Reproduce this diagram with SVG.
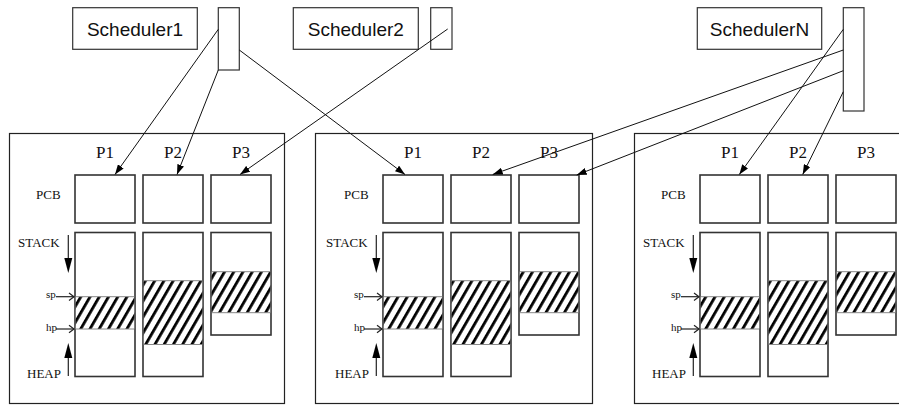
<svg xmlns="http://www.w3.org/2000/svg" width="899" height="405" viewBox="0 0 899 405">
<defs>
<style>
.box{fill:#fff;stroke:#333;stroke-width:1.6}
.frame{fill:none;stroke:#222;stroke-width:1.2}
.sbox{fill:#fff;stroke:#333;stroke-width:1.2}
.serif{font-family:"Liberation Serif","Times New Roman",serif;fill:#111}
.sans{font-family:"Liberation Sans",Arial,sans-serif;fill:#111;font-size:19px}
.conn{stroke:#111;stroke-width:1;fill:none}
.hb{stroke:#888;stroke-width:1}
.thin{stroke:#222;stroke-width:1.2;fill:none}
</style>
<pattern id="hatch" width="8" height="8" patternUnits="userSpaceOnUse" patternTransform="rotate(30)">
<rect x="0" y="0" width="8" height="8" fill="#fff"/>
<rect x="0" y="0" width="2.8" height="8" fill="#000"/>
</pattern>
<marker id="ah" viewBox="0 0 10 7" markerWidth="10" markerHeight="7" refX="10" refY="3.5" orient="auto" markerUnits="userSpaceOnUse">
<path d="M0,0 L10,3.5 L0,7 z" fill="#000"/>
</marker>
<g id="panel">
<text class="serif" x="30" y="158" font-size="17" text-anchor="middle">P1</text>
<text class="serif" x="98" y="158" font-size="17" text-anchor="middle">P2</text>
<text class="serif" x="166" y="158" font-size="17" text-anchor="middle">P3</text>
<text class="serif" x="-39" y="199" font-size="13">PCB</text>
<text class="serif" x="-57" y="247" font-size="13">STACK</text>
<text class="serif" x="-48" y="378" font-size="13">HEAP</text>
<text class="serif" x="-29" y="298" font-size="11">sp</text>
<text class="serif" x="-29" y="331" font-size="11">hp</text>
<rect class="box" x="0" y="175" width="60" height="48"/>
<rect class="box" x="68" y="175" width="60" height="48"/>
<rect class="box" x="136" y="175" width="60" height="48"/>
<rect class="box" x="0" y="232.5" width="60" height="144"/>
<rect class="box" x="68" y="232.5" width="60" height="144"/>
<rect class="box" x="136" y="232.5" width="60" height="102.5"/>
<rect x="0.8" y="296.7" width="58.4" height="32.3" fill="url(#hatch)"/>
<line class="hb" x1="0.8" y1="296.7" x2="59.2" y2="296.7"/>
<line class="hb" x1="0.8" y1="329" x2="59.2" y2="329"/>
<rect x="68.8" y="280.7" width="58.4" height="63.8" fill="url(#hatch)"/>
<line class="hb" x1="68.8" y1="280.7" x2="127.2" y2="280.7"/>
<line class="hb" x1="68.8" y1="344.5" x2="127.2" y2="344.5"/>
<rect x="136.8" y="271.7" width="58.4" height="41" fill="url(#hatch)"/>
<line class="hb" x1="136.8" y1="271.7" x2="195.2" y2="271.7"/>
<line class="hb" x1="136.8" y1="312.7" x2="195.2" y2="312.7"/>
<line class="thin" x1="-6.7" y1="235" x2="-6.7" y2="260"/>
<path d="M-10.7,258 L-2.7,258 L-6.7,273 z" fill="#000"/>
<line class="thin" x1="-6.7" y1="376" x2="-6.7" y2="356"/>
<path d="M-10.7,358 L-2.7,358 L-6.7,343 z" fill="#000"/>
<line class="thin" x1="-19" y1="296.7" x2="-1" y2="296.7"/>
<path class="thin" d="M-6,293 L-1,296.7 L-6,300.4"/>
<line class="thin" x1="-19" y1="329" x2="-1" y2="329"/>
<path class="thin" d="M-6,325.3 L-1,329 L-6,332.7"/>
</g>
</defs>

<g id="panel1">
<rect class="frame" x="9.5" y="133.5" width="275" height="270"/>
<use href="#panel" transform="translate(75,0)"/>
</g>
<g id="panel2">
<rect class="frame" x="315.5" y="133.5" width="277" height="270"/>
<use href="#panel" transform="translate(383,0)"/>
</g>
<g id="panel3">
<rect class="frame" x="634.5" y="133.5" width="280" height="270"/>
<use href="#panel" transform="translate(700,0)"/>
</g>

<g id="scheduler1">
<rect class="sbox" x="72.7" y="7.7" width="124.6" height="41.6"/>
<text class="sans" x="135" y="36" text-anchor="middle">Scheduler1</text>
<rect class="sbox" x="218.3" y="7.7" width="21" height="62.3"/>
</g>
<g id="scheduler2">
<rect class="sbox" x="293.3" y="7.7" width="125" height="41.6"/>
<text class="sans" x="355.8" y="36" text-anchor="middle">Scheduler2</text>
<rect class="sbox" x="430.7" y="7.7" width="21.3" height="41.6"/>
</g>
<g id="schedulerN">
<rect class="sbox" x="697.3" y="7.7" width="124.4" height="41.6"/>
<text class="sans" x="759.5" y="36" text-anchor="middle">SchedulerN</text>
<rect class="sbox" x="843.3" y="7.7" width="20.7" height="103.3"/>
</g>

<g id="connectors">
<line class="conn" x1="218.3" y1="29.3" x2="115" y2="174.5" marker-end="url(#ah)"/>
<line class="conn" x1="218.3" y1="70" x2="177" y2="174.5" marker-end="url(#ah)"/>
<line class="conn" x1="239.3" y1="50" x2="405" y2="174.5" marker-end="url(#ah)"/>
<line class="conn" x1="447.7" y1="29" x2="240" y2="174.5" marker-end="url(#ah)"/>
<line class="conn" x1="843.3" y1="29.3" x2="739.3" y2="174.5" marker-end="url(#ah)"/>
<line class="conn" x1="843.3" y1="50" x2="492.7" y2="174.5" marker-end="url(#ah)"/>
<line class="conn" x1="843.3" y1="70.7" x2="576.7" y2="175" marker-end="url(#ah)"/>
<line class="conn" x1="843.3" y1="91.7" x2="802.7" y2="174.5" marker-end="url(#ah)"/>
</g>
</svg>
